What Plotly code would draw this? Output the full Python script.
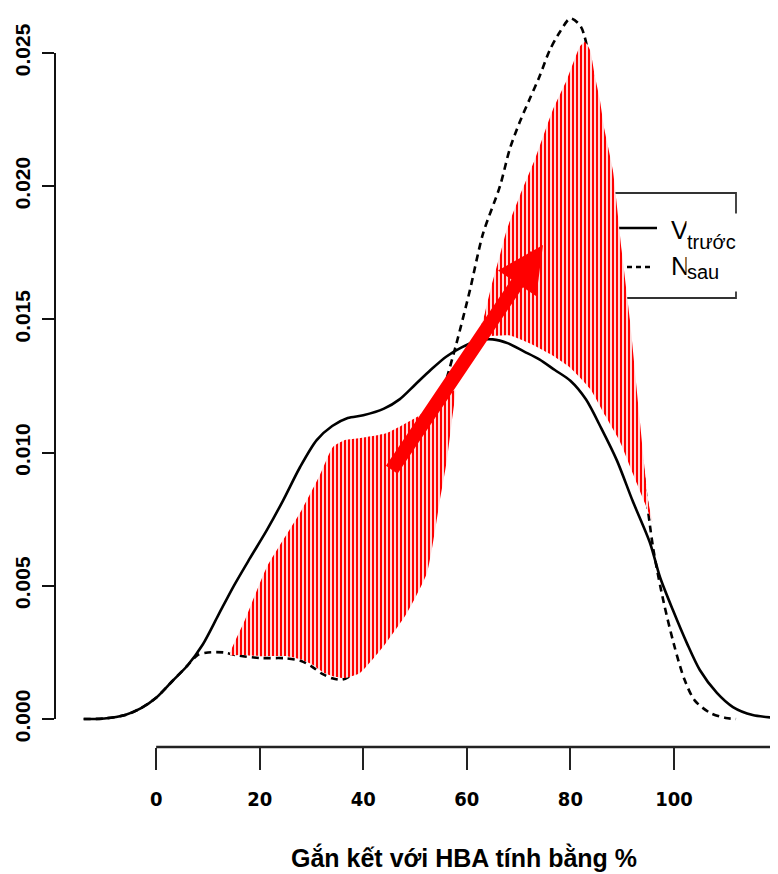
import plotly.graph_objects as go

# ---------------- data ----------------
before_x = [-14, -10, -6, -3, 0, 3, 6, 9, 12, 15, 18, 21.4, 24.5, 27.8, 31.0, 34.0, 37.0, 40.0,
            44, 47, 50, 53, 56, 59, 62, 65, 68, 71, 74, 77, 80, 83, 86, 89, 92, 95.4, 97.3,
            99.8, 102.5, 105, 108.3, 111.4, 115.2, 120]
before_y = [0.0, 0.00002, 0.00015, 0.0004, 0.0008, 0.0014, 0.0020, 0.0028, 0.0039, 0.0050,
            0.0060, 0.0071, 0.0082, 0.00946, 0.01047, 0.0110, 0.0113, 0.0114, 0.01165, 0.0120,
            0.01255, 0.0131, 0.0136, 0.01395, 0.0142, 0.01425, 0.0141, 0.0138, 0.0135, 0.0131,
            0.0127, 0.0120, 0.0109, 0.0097, 0.0082, 0.0066, 0.00533, 0.00409, 0.00285,
            0.00184, 0.00098, 0.00045, 0.00015, 0.00004]

after_x = [-14, -10, -6, -3, 0, 3, 6, 8, 10, 13, 16, 20, 25, 28, 30, 32, 34, 36, 38, 40,
           42, 44, 46, 48, 50, 52, 54, 56, 58, 60.6, 63.1, 66.4, 68.3, 70.2, 72.2, 74, 76, 78,
           80, 82, 84, 86, 88, 90, 92, 94, 96, 98, 100, 102, 104, 107, 110, 112]
after_y = [0.0, 0.00002, 0.00015, 0.0004, 0.0008, 0.0014, 0.0020, 0.0024, 0.0025, 0.0025,
           0.00238, 0.00229, 0.00228, 0.00218, 0.00198, 0.0017, 0.00153, 0.00148, 0.0017,
           0.0022, 0.0030, 0.0041, 0.0055, 0.0070, 0.0085, 0.0099, 0.0113, 0.0127, 0.0141,
           0.0161, 0.0182, 0.0200, 0.0214, 0.0224, 0.0233, 0.0241, 0.0251, 0.0258, 0.0263,
           0.0260, 0.0245, 0.0222, 0.0192, 0.0160, 0.0126, 0.0094, 0.0064, 0.0044, 0.0028,
           0.0015, 0.0007, 0.00023, 0.00004, 0.0]

# hatched area where "trước" lies above "sau"
hatch1_x = [14.25, 17.15, 21.39, 27.77, 31.63, 34.14, 36.46, 39.36, 44.57, 50.37, 54.81, 57.71,
            57.13, 56.16, 54.81, 52.30, 48.44, 43.79, 39.36, 36.46, 34.14, 32.21, 30.28, 27.77,
            25.26, 20.05, 16.18, 14.25]
hatch1_y = [0.00240, 0.00372, 0.00571, 0.00773, 0.00916, 0.01021, 0.01047, 0.01055, 0.01074,
            0.01134, 0.01190, 0.01235, 0.01122, 0.00972, 0.00822, 0.00548, 0.00398, 0.00270,
            0.00173, 0.00154, 0.00161, 0.00176, 0.00203, 0.00225, 0.00236, 0.00236, 0.00240,
            0.00240]

# hatched area where "sau" lies above "trước"
hatch2_x = [62.5, 63.5, 64.8, 66.4, 67.7, 70.3, 73.1, 76.6, 79.3, 80.9, 81.8, 82.8, 83.8, 84.7,
            85.7, 86.6, 88.2, 89.9, 91.5, 93.4, 95.0, 95.8, 94.4, 92.1, 89.6, 86.7, 83.8, 79.9,
            76.1, 72.2, 68.3, 62.5]
hatch2_y = [0.01441, 0.01524, 0.01629, 0.01742, 0.01836, 0.01967, 0.02098, 0.02286, 0.02399,
            0.02481, 0.02523, 0.02541, 0.02511, 0.02417, 0.02324, 0.02211, 0.02061, 0.0176,
            0.01498, 0.01122, 0.00822, 0.0074, 0.0081, 0.0092, 0.0104, 0.0114, 0.0124, 0.0132,
            0.0137, 0.0141, 0.0144, 0.01441]

arrow_tail = [45.3, 0.00930]
arrow_tip = [74.7, 0.01779]

x_tickvals = [0, 20, 40, 60, 80, 100]
x_ticktext = ["0", "20", "40", "60", "80", "100"]
y_tickvals = [0.0, 0.005, 0.010, 0.015, 0.020, 0.025]
y_ticktext = ["0.000", "0.005", "0.010", "0.015", "0.020", "0.025"]

name_before = "trước"
name_after = "sau"
x_title = "Gắn kết với HBA tính bằng %"

# ---------------- layout helpers ----------------
PAGE_W, PAGE_H = 778, 874
BODY = 8                         # default page margin around the plot div
W, H = PAGE_W - BODY, PAGE_H - BODY
PLOT_L, PLOT_R, PLOT_T, PLOT_B = 55, 778, 8, 747   # plot area in page pixels
ML, MR, MT, MB = PLOT_L - BODY, PAGE_W - PLOT_R, PLOT_T - BODY, PAGE_H - PLOT_B
X_RANGE = [-19.54, 120.1]
Y_RANGE = [-0.00105, 0.02669]


def px(v):
    return (v - PLOT_L) / (PLOT_R - PLOT_L)


def py(v):
    return (PLOT_B - v) / (PLOT_B - PLOT_T)


SANS = "Liberation Sans, Arial, sans-serif"
NARROW = "Liberation Sans Narrow, Arial Narrow, DejaVu Sans Condensed, Liberation Sans, sans-serif"

fig = go.Figure()

fig.add_trace(go.Scatter(
    x=after_x, y=after_y, mode="lines", name=name_after, showlegend=False,
    line=dict(color="black", width=2.6, dash="7px,5px", shape="spline", smoothing=0.8),
    hoverinfo="skip"))

for hx, hy in ((hatch1_x, hatch1_y), (hatch2_x, hatch2_y)):
    fig.add_trace(go.Scatter(
        x=hx, y=hy, mode="lines", fill="toself", showlegend=False,
        line=dict(width=0, color="rgba(0,0,0,0)", shape="spline", smoothing=0.5),
        fillcolor="white",
        fillpattern=dict(shape="|", fgcolor="#ff0000", bgcolor="white", size=4,
                         solidity=0.58, fillmode="replace"),
        hoverinfo="skip"))

fig.add_trace(go.Scatter(
    x=before_x, y=before_y, mode="lines", name=name_before, showlegend=False,
    line=dict(color="black", width=2.6, shape="spline", smoothing=0.8),
    hoverinfo="skip"))

shapes = [
    # R-style axis lines
    dict(type="line", xref="paper", yref="y", x0=0, x1=0, y0=y_tickvals[0], y1=y_tickvals[-1],
         line=dict(color="#111", width=2)),
    dict(type="line", xref="x", yref="paper", x0=x_tickvals[0], x1=X_RANGE[1], y0=0, y1=0,
         line=dict(color="#222", width=2.5)),
    # legend frame & keys (below the hatch)
    dict(type="rect", xref="paper", yref="paper", x0=px(596), x1=px(736), y0=py(298), y1=py(193),
         line=dict(color="#333", width=1.8), fillcolor="white", layer="below"),
    dict(type="line", xref="paper", yref="paper", x0=px(618), x1=px(657), y0=py(228), y1=py(228),
         line=dict(color="black", width=2.6), layer="below"),
    dict(type="line", xref="paper", yref="paper", x0=px(618), x1=px(654), y0=py(267), y1=py(267),
         line=dict(color="black", width=2.6, dash="5px,4px"), layer="below"),
]

annotations = [
    dict(text="V", xref="paper", yref="paper", x=px(680), y=py(230), xanchor="center",
         yanchor="middle", showarrow=False, font=dict(family=SANS, size=26, color="black")),
    dict(text="N", xref="paper", yref="paper", x=px(680), y=py(266), xanchor="center",
         yanchor="middle", showarrow=False, font=dict(family=SANS, size=26, color="black")),
    dict(text=name_before, xref="paper", yref="paper", x=px(686), y=py(213), xanchor="left",
         yanchor="top", width=56, height=39, align="left", valign="bottom", bgcolor="white",
         borderpad=0, showarrow=False, font=dict(family=SANS, size=20, color="black")),
    dict(text=name_after, xref="paper", yref="paper", x=px(686), y=py(252), xanchor="left",
         yanchor="top", width=56, height=38, align="left", valign="middle", bgcolor="white",
         borderpad=0, showarrow=False, font=dict(family=SANS, size=20, color="black")),
    dict(text=x_title, xref="paper", yref="paper", x=px(464), y=py(857), xanchor="center",
         yanchor="middle", showarrow=False,
         font=dict(family=SANS, size=25, color="black", weight="bold")),
    dict(text="", x=arrow_tip[0], y=arrow_tip[1], ax=arrow_tail[0], ay=arrow_tail[1],
         xref="x", yref="y", axref="x", ayref="y", showarrow=True, arrowhead=2,
         arrowsize=0.66, arrowwidth=14, arrowcolor="#ff0000"),
]

fig.update_layout(
    width=W, height=H,
    margin=dict(l=ML, r=MR, t=MT, b=MB, pad=0),
    paper_bgcolor="white", plot_bgcolor="white",
    showlegend=False,
    shapes=shapes, annotations=annotations,
    xaxis=dict(range=X_RANGE, tickmode="array", tickvals=x_tickvals, ticktext=x_ticktext,
               ticks="outside", ticklen=22, tickwidth=2, tickcolor="#222",
               showline=False, showgrid=False, zeroline=False, automargin=False,
               ticklabelstandoff=12,
               tickfont=dict(family=NARROW, size=20, color="black", weight="bold")),
    yaxis=dict(range=Y_RANGE, tickmode="array", tickvals=y_tickvals, ticktext=y_ticktext,
               ticks="outside", ticklen=12, tickwidth=2, tickcolor="#111", tickangle=-90,
               showline=False, showgrid=False, zeroline=False, automargin=False,
               ticklabelstandoff=4,
               tickfont=dict(family=SANS, size=21, color="black", weight="bold")),
)

fig.write_html("out.html")
